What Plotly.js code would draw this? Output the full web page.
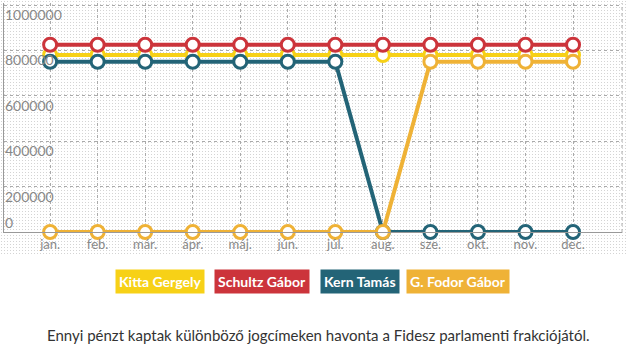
<!DOCTYPE html>
<html>
<head>
<meta charset="utf-8">
<script src="https://cdn.plot.ly/plotly-3.0.1.min.js"></script>
<style>
  html, body { margin: 0; padding: 0; background: #fff; }
  #wrap { position: relative; width: 626px; height: 352px; }
  #dots { position: absolute; left: 0; top: 0; width: 626px; height: 256px;
          background-image: radial-gradient(circle, #d4d4d4 0.7px, rgba(255,255,255,0) 0.8px);
          background-size: 3px 3px; }
  #chart { position: absolute; left: 0; top: 0; width: 626px; height: 352px; }
</style>
</head>
<body>
<div id="wrap"><div id="dots"></div><div id="chart"></div></div>
<script>
const months = ["jan.", "feb.", "már.", "ápr.", "máj.", "jún.", "júl.", "aug.", "sze.", "okt.", "nov.", "dec."];
const seriesNames = ["Kitta Gergely", "Schultz Gábor", "Kern Tamás", "G. Fodor Gábor"];
const seriesColors = ["#f7d117", "#cc343b", "#236477", "#efb236"];
const kitta   = [780000, 780000, 780000, 780000, 780000, 780000, 780000, 780000, 780000, 780000, 780000, 780000];
const schultz = [825000, 825000, 825000, 825000, 825000, 825000, 825000, 825000, 825000, 825000, 825000, 825000];
const kern    = [750000, 750000, 750000, 750000, 750000, 750000, 750000, 0, 0, 0, 0, 0];
const fodor   = [0, 0, 0, 0, 0, 0, 0, 0, 750000, 750000, 750000, 750000];
const yTicks  = [200000, 400000, 600000, 800000, 1000000];
const yGrid   = [0, 200000, 400000, 600000, 800000, 1000000];
const caption = "Ennyi pénzt kaptak különböző jogcímeken havonta a Fidesz parlamenti frakciójától.";

const allValues = [kitta, schultz, kern, fodor];
const xIdx = months.map((m, i) => i);

const traces = allValues.map((vals, k) => ({
  type: "scatter", mode: "lines+markers",
  x: xIdx, y: vals, name: seriesNames[k],
  line: { color: seriesColors[k], width: 4 },
  marker: { symbol: "circle", size: 13, color: "#ffffff", line: { color: seriesColors[k], width: 3 } },
  cliponaxis: false, showlegend: false, hoverinfo: "skip"
}));

const FONT = "Lato, sans-serif";

// legend boxes (annotations)
const legendCenters = [159.5, 261.5, 359.5, 457.5];
const plotL = 4, plotW = 618, plotT = 3, plotH = 229;
const annotations = seriesNames.map((n, k) => ({
  text: "<b>" + n + "</b>", xref: "paper", yref: "paper",
  x: (legendCenters[k] - plotL) / plotW, y: (plotT + plotH - 281) / plotH,
  xanchor: "center", yanchor: "middle", showarrow: false,
  bgcolor: seriesColors[k], borderpad: 3,
  font: { family: FONT, size: 14, color: "#ffffff" }
}));
annotations.push({
  text: caption, xref: "paper", yref: "paper",
  x: (318 - plotL) / plotW, y: (plotT + plotH - 335) / plotH,
  xanchor: "center", yanchor: "middle", showarrow: false,
  font: { family: FONT, size: 15, color: "#333333" }
});

const yRange = [0, 1009000];
const layout = {
  width: 626, height: 352,
  margin: { l: plotL, r: 626 - plotL - plotW, t: plotT, b: 352 - plotT - plotH },
  paper_bgcolor: "rgba(0,0,0,0)", plot_bgcolor: "rgba(0,0,0,0)",
  font: { family: FONT, color: "#777" },
  xaxis: {
    range: [-0.97, 12.03], tickvals: xIdx, ticktext: months,
    showgrid: true, gridcolor: "#aaaaaa", griddash: "dot", gridwidth: 1,
    showline: true, linecolor: "#999999", linewidth: 1,
    zeroline: false, ticks: "", tickfont: { size: 13, color: "#888" }, ticklen: 0
  },
  yaxis: {
    range: yRange, tickvals: yGrid, showticklabels: false,
    showgrid: true, gridcolor: "#aaaaaa", griddash: "dot", gridwidth: 1,
    showline: true, linecolor: "#999999", linewidth: 1, zeroline: false, ticks: ""
  },
  yaxis2: {
    overlaying: "y", anchor: "free", position: 0, side: "right",
    range: yRange, tickvals: yTicks, ticktext: yTicks.map(String),
    showgrid: false, showline: false, zeroline: false, ticks: "",
    ticklabelshift: 10, ticklabelstandoff: 0,
    tickfont: { size: 14, color: "#888" }
  },
  yaxis3: {
    overlaying: "y", anchor: "free", position: 0, side: "right",
    range: yRange, tickvals: [0], ticktext: ["0"],
    showgrid: false, showline: false, zeroline: false, ticks: "",
    ticklabelshift: -9, ticklabelstandoff: 0,
    tickfont: { size: 14, color: "#888" }
  },
  shapes: [{ type: "line", xref: "paper", yref: "paper", x0: 1, x1: 1, y0: 0, y1: 1,
             line: { color: "#aaaaaa", width: 1, dash: "dot" } }],
  annotations: annotations
};

// empty traces to activate the label-only axes
traces.unshift({ type: "scatter", x: [], y: [], yaxis: "y3", showlegend: false, hoverinfo: "skip" });
traces.unshift({ type: "scatter", x: [], y: [], yaxis: "y2", showlegend: false, hoverinfo: "skip" });

Plotly.newPlot("chart", traces, layout, { displayModeBar: false, staticPlot: true });
</script>
</body>
</html>
